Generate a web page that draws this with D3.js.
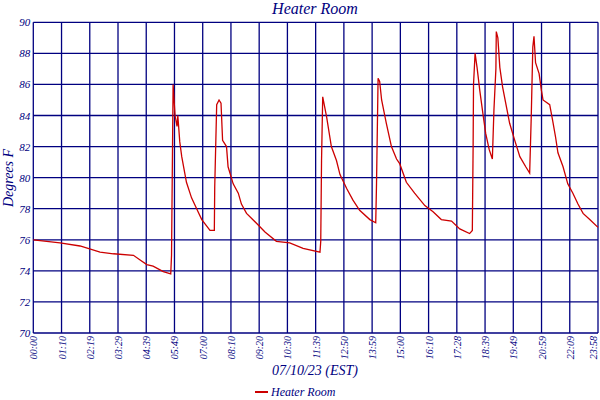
<!DOCTYPE html>
<html><head><meta charset="utf-8">
<script src="https://cdn.jsdelivr.net/npm/d3@7"></script>
<style>body{margin:0;background:#fff}svg{display:block}text{font-family:"Liberation Serif",serif;font-style:italic;fill:#000080}</style>
</head><body><svg id="c" width="600" height="400"></svg>
<script>
const tickLabels=["00:00","01:10","02:19","03:29","04:39","05:49","07:00","08:10","09:20","10:30","11:39","12:50","13:59","15:00","16:10","17:28","18:39","19:49","20:59","22:09","23:58"];
const yTicks=[70,72,74,76,78,80,82,84,86,88,90];
const minutes=[0,68,119,170,204,255,272,289,305,331,350,352,356,361,366,368,373,378,390,403,416,429,450,461,462,467,473,478,482,492,496,509,522,530,543,569,590,619,653,687,730,732,734,737,747,759,772,781,798,814,831,857,872,874,878,882,887,899,912,925,933,950,971,997,1018,1039,1065,1086,1111,1118,1120,1121,1125,1130,1137,1145,1152,1161,1169,1173,1178,1179,1183,1188,1195,1203,1213,1226,1239,1254,1264,1268,1272,1275,1279,1288,1294,1298,1315,1323,1330,1336,1349,1361,1374,1387,1400,1417,1438];
const temps=[76.0,75.8,75.6,75.2,75.1,75.0,74.7,74.4,74.3,73.95,73.8,75,86.0,84.0,83.3,84.0,82.3,81.35,79.7,78.7,78.0,77.3,76.6,76.6,79.4,84.7,85.0,84.8,82.4,82.0,80.7,79.6,79.0,78.3,77.7,77.05,76.5,75.9,75.8,75.45,75.2,75.9,81.1,85.2,83.9,82.0,81.1,80.2,79.3,78.55,77.9,77.3,77.1,79.6,86.4,86.2,85.0,83.5,82.0,81.2,80.9,79.7,79.0,78.2,77.8,77.3,77.2,76.7,76.4,76.6,82.0,86.0,88.0,87.1,85.6,84.1,82.85,81.8,81.2,84.35,87.0,89.4,89.0,87.1,85.85,84.8,83.5,82.4,81.35,80.7,80.3,83.9,88.4,89.1,87.4,86.7,85.6,85.0,84.7,83.6,82.6,81.6,80.7,79.6,79.0,78.3,77.7,77.3,76.8];
const data=minutes.map((m,i)=>({m,v:temps[i]}));
const L=33.3,R=598,T=22.3,B=333;
const svg=d3.select("#c");
const x=d3.scaleLinear().domain([0,1438]).range([L,R]);
const y=d3.scaleLinear().domain([70,90]).range([B,T]);
const navy="#000080";
const tickPos=tickLabels.map((t,i)=>i*1438/20);
svg.append("g").selectAll("line").data(tickPos).join("line")
 .attr("x1",d=>x(d)).attr("x2",d=>x(d)).attr("y1",T).attr("y2",B).attr("stroke",navy).attr("stroke-width",1.3);
svg.append("g").selectAll("line").data(yTicks).join("line")
 .attr("x1",L).attr("x2",R).attr("y1",d=>y(d)).attr("y2",d=>y(d)).attr("stroke",navy).attr("stroke-width",1.3);
svg.append("g").selectAll("text").data(yTicks).join("text")
 .attr("x",L-3).attr("y",d=>y(d)+4).attr("text-anchor","end").attr("font-size",11).text(d=>d);
svg.append("g").selectAll("text").data(tickLabels).join("text")
 .attr("transform",(d,i)=>`translate(${Math.min(x(tickPos[i])+4,597)},${B+3}) rotate(-90)`)
 .attr("text-anchor","end").attr("font-size",10).text(d=>d);
svg.append("path").datum(data).attr("fill","none").attr("stroke","#cc0000").attr("stroke-width",1.3)
 .attr("d",d3.line().x(d=>x(d.m)).y(d=>y(d.v)));
svg.append("text").attr("x",315).attr("y",14).attr("text-anchor","middle").attr("font-size",16).text("Heater Room");
svg.append("text").attr("transform","translate(13,178) rotate(-90)").attr("text-anchor","middle").attr("font-size",14).text("Degrees F");
svg.append("text").attr("x",315).attr("y",375).attr("text-anchor","middle").attr("font-size",14).text("07/10/23 (EST)");
svg.append("line").attr("x1",255).attr("x2",268).attr("y1",392).attr("y2",392).attr("stroke","#cc0000").attr("stroke-width",2);
svg.append("text").attr("x",271).attr("y",396).attr("font-size",12).text("Heater Room");
</script></body></html>
